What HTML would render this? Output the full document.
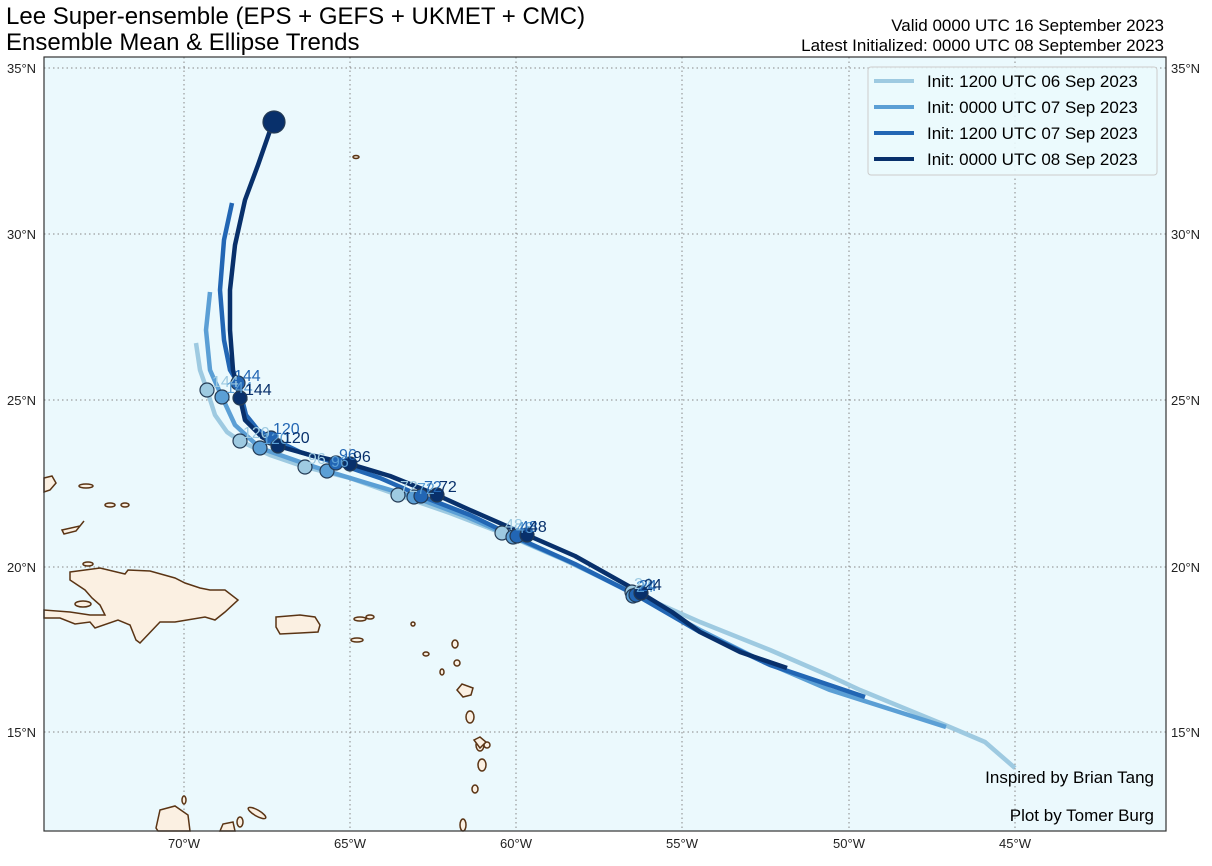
<!DOCTYPE html>
<html><head><meta charset="utf-8"><style>
body{margin:0;background:#fff;}
svg{display:block;font-family:"Liberation Sans",sans-serif;}
</style></head><body>
<svg width="1212" height="866" viewBox="0 0 1212 866">
<text x="6" y="24" font-size="24">Lee Super-ensemble (EPS + GEFS + UKMET + CMC)</text>
<text x="6" y="50" font-size="24">Ensemble Mean &amp; Ellipse Trends</text>
<text x="1164" y="31" font-size="17" text-anchor="end">Valid 0000 UTC 16 September 2023</text>
<text x="1164" y="51" font-size="17" text-anchor="end">Latest Initialized: 0000 UTC 08 September 2023</text>
<rect x="44" y="57" width="1122" height="774" fill="#ebf9fd"/>
<g stroke="#888" stroke-width="1" stroke-dasharray="1.5,3">
<line x1="184" y1="57" x2="184" y2="831"/><line x1="350" y1="57" x2="350" y2="831"/><line x1="516" y1="57" x2="516" y2="831"/><line x1="682" y1="57" x2="682" y2="831"/><line x1="849" y1="57" x2="849" y2="831"/><line x1="1015" y1="57" x2="1015" y2="831"/>
<line x1="44" y1="68" x2="1166" y2="68"/><line x1="44" y1="234" x2="1166" y2="234"/><line x1="44" y1="400" x2="1166" y2="400"/><line x1="44" y1="567" x2="1166" y2="567"/><line x1="44" y1="732" x2="1166" y2="732"/>
</g>
<g fill="#fbf0e2" stroke="#5a3414" stroke-width="1.5">
<path d="M70,572 L100,568 L125,574 L128,570 L150,571 L175,578 L185,583 L200,588 L210,590 L225,590 L238,600 L225,612 L215,620 L205,617 L175,622 L160,622 L140,643 L136,640 L130,625 L118,620 L95,628 L90,622 L75,624 L60,618 L44,618 L44,610 L70,612 L90,615 L105,615 L100,605 L92,598 L85,590 L70,580 Z"/>
<path d="M276,617 L300,615 L315,617 L320,625 L318,632 L300,633 L280,634 L276,627 Z"/>
<ellipse cx="83" cy="604" rx="8" ry="3"/>
<path d="M62,530 L80,526 L84,521 L76,531 L64,534 Z"/>
<ellipse cx="88" cy="564" rx="5" ry="2"/>
<ellipse cx="86" cy="486" rx="7" ry="2"/>
<ellipse cx="110" cy="505" rx="5" ry="2"/>
<ellipse cx="125" cy="505" rx="4" ry="2"/>
<path d="M44,478 L52,476 L56,483 L50,490 L44,492 Z"/>
<path d="M156,828 L160,810 L175,806 L188,815 L190,831 L158,831Z"/>
<path d="M220,831 L223,824 L233,822 L235,831Z"/>
<ellipse cx="257" cy="813" rx="10" ry="3" transform="rotate(30 257 813)"/>
<ellipse cx="240" cy="822" rx="3" ry="5"/>
<ellipse cx="184" cy="800" rx="2" ry="4"/>
<ellipse cx="357" cy="640" rx="6" ry="2"/><ellipse cx="360" cy="619" rx="6" ry="2"/><ellipse cx="370" cy="617" rx="4" ry="2"/>
<ellipse cx="413" cy="624" rx="2" ry="2"/><ellipse cx="426" cy="654" rx="3" ry="2"/>
<ellipse cx="455" cy="644" rx="3" ry="4"/><ellipse cx="457" cy="663" rx="3" ry="3"/>
<path d="M457,690 L462,684 L473,688 L471,695 L463,697 Z"/>
<ellipse cx="480" cy="745" rx="4" ry="6"/><ellipse cx="470" cy="717" rx="4" ry="6"/><ellipse cx="487" cy="745" rx="3" ry="3"/>
<path d="M474,740 L480,737 L486,742 L480,748 Z"/>
<ellipse cx="482" cy="765" rx="4" ry="6"/><ellipse cx="475" cy="789" rx="3" ry="4"/><ellipse cx="463" cy="825" rx="3" ry="6"/>
<ellipse cx="356" cy="157" rx="3" ry="1.5"/>
<ellipse cx="442" cy="672" rx="2" ry="3"/>
</g>
<g fill="none" stroke-linejoin="round" stroke-linecap="butt" stroke-width="4.5">
<polyline stroke="#9ecae1" points="196,343 200,370 207,390 215,415 227,432 240,441 270,455 305,467 350,478 398,495 450,513 502,533 560,558 632,592 700,622 770,650 830,676 860,690 945,725 985,742 1015,768"/>
<polyline stroke="#5b9fd5" points="210,292 206,330 210,370 222,397 235,425 260,448 300,462 327,471 370,484 414,497 465,516 513,537 570,562 636,595 700,630 760,660 830,690 946,727"/>
<polyline stroke="#2266b4" points="232,203 224,240 220,290 224,340 230,370 238,383 246,415 258,430 271,438 300,452 336,463 380,478 421,496 470,515 513,536 575,564 636,595 700,632 770,665 865,697"/>
<polyline stroke="#08306b" points="273,122 258,165 245,200 235,245 230,290 230,330 233,370 240,398 245,420 262,437 278,446 310,455 350,464 390,476 437,495 470,510 527,535 575,556 641,593 672,612 700,632 740,652 787,668"/>
</g>
<g stroke="#243b55" stroke-width="1.2">
<circle cx="207" cy="390" r="7" fill="#9ecae1"/><circle cx="240" cy="441" r="7" fill="#9ecae1"/><circle cx="305" cy="467" r="7" fill="#9ecae1"/><circle cx="398" cy="495" r="7" fill="#9ecae1"/><circle cx="502" cy="533" r="7" fill="#9ecae1"/><circle cx="632" cy="592" r="7" fill="#9ecae1"/>
<circle cx="222" cy="397" r="7" fill="#5b9fd5"/><circle cx="260" cy="448" r="7" fill="#5b9fd5"/><circle cx="327" cy="471" r="7" fill="#5b9fd5"/><circle cx="414" cy="497" r="7" fill="#5b9fd5"/><circle cx="513" cy="537" r="7" fill="#5b9fd5"/><circle cx="633" cy="596" r="7" fill="#5b9fd5"/>
<circle cx="238" cy="383" r="7" fill="#2266b4"/><circle cx="271" cy="438" r="7" fill="#2266b4"/><circle cx="336" cy="463" r="7" fill="#2266b4"/><circle cx="421" cy="496" r="7" fill="#2266b4"/><circle cx="517" cy="536" r="7" fill="#2266b4"/><circle cx="636" cy="595" r="7" fill="#2266b4"/>
<circle cx="240" cy="398" r="7" fill="#08306b"/><circle cx="278" cy="446" r="7" fill="#08306b"/><circle cx="350" cy="464" r="7" fill="#08306b"/><circle cx="437" cy="495" r="7" fill="#08306b"/><circle cx="527" cy="535" r="7" fill="#08306b"/><circle cx="641" cy="593" r="7" fill="#08306b"/>
<circle cx="274" cy="122" r="11" fill="#08306b"/>
</g>
<g font-size="16">
<g fill="#9ecae1"><text x="212" y="387">144</text><text x="243" y="438">120</text><text x="308" y="464">96</text><text x="400" y="492">72</text><text x="505" y="530">48</text><text x="634" y="589">24</text></g>
<g fill="#5b9fd5"><text x="226" y="393">144</text><text x="262" y="444">120</text><text x="331" y="467">96</text><text x="417" y="494">72</text><text x="516" y="533">48</text><text x="636" y="592">24</text></g>
<g fill="#2266b4"><text x="234" y="381">144</text><text x="273" y="434">120</text><text x="339" y="460">96</text><text x="424" y="492">72</text><text x="520" y="532">48</text><text x="639" y="591">24</text></g>
<g fill="#08306b"><text x="245" y="395">144</text><text x="283" y="443">120</text><text x="353" y="462">96</text><text x="439" y="492">72</text><text x="529" y="532">48</text><text x="644" y="590">24</text></g>
</g>
<rect x="868" y="67" width="289" height="108" rx="3" fill="#ebf9fd" fill-opacity="0.9" stroke="#ccc"/>
<g stroke-width="4"><line x1="874" y1="81" x2="914" y2="81" stroke="#9ecae1"/><line x1="874" y1="107" x2="914" y2="107" stroke="#5b9fd5"/><line x1="874" y1="133" x2="914" y2="133" stroke="#2266b4"/><line x1="874" y1="159" x2="914" y2="159" stroke="#08306b"/></g>
<g font-size="17"><text x="927" y="87">Init: 1200 UTC 06 Sep 2023</text><text x="927" y="113">Init: 0000 UTC 07 Sep 2023</text><text x="927" y="139">Init: 1200 UTC 07 Sep 2023</text><text x="927" y="165">Init: 0000 UTC 08 Sep 2023</text></g>
<text x="1154" y="783" font-size="17" text-anchor="end">Inspired by Brian Tang</text>
<text x="1154" y="821" font-size="17" text-anchor="end">Plot by Tomer Burg</text>
<rect x="44" y="57" width="1122" height="774" fill="none" stroke="#333" stroke-width="1.2"/>
<g font-size="13" fill="#222">
<text x="7" y="73">35°N</text><text x="7" y="239">30°N</text><text x="7" y="405">25°N</text><text x="7" y="572">20°N</text><text x="7" y="737">15°N</text>
<text x="1171" y="73">35°N</text><text x="1171" y="239">30°N</text><text x="1171" y="405">25°N</text><text x="1171" y="572">20°N</text><text x="1171" y="737">15°N</text>
<g text-anchor="middle"><text x="184" y="848">70°W</text><text x="350" y="848">65°W</text><text x="516" y="848">60°W</text><text x="682" y="848">55°W</text><text x="849" y="848">50°W</text><text x="1015" y="848">45°W</text></g>
</g>
</svg>
</body></html>
